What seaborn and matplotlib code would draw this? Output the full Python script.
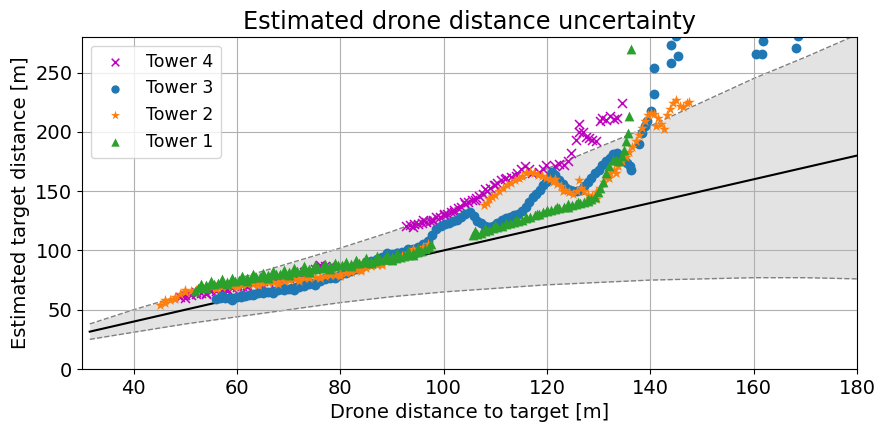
import numpy as np
import pandas as pd
import matplotlib
matplotlib.use("Agg")
import matplotlib.pyplot as plt
import seaborn as sns

# ---- data ----
band_x = [31.5, 40, 50, 60, 70, 80, 90, 100, 110, 120, 130, 140, 150, 160, 170, 180]
band_upper = [38, 50, 63, 76, 89, 102, 116, 132, 150, 169, 187, 205, 225, 245, 263, 282]
band_lower = [25, 31, 38, 44, 50, 56, 61, 65, 68, 71, 73, 75, 76, 77, 77, 76]
ideal_x = [31.5, 180]
ideal_y = [31.5, 180]

t4_x = [49, 50, 51, 52, 53, 54, 55, 56, 57, 58, 59, 60, 61, 62, 63, 64, 65, 66, 67, 68,
        69, 70, 71, 72, 73, 74, 75, 76, 77, 77.8,
        92.8, 93.5, 94.2, 95, 95.9, 96.6, 97.3, 98, 98.6, 99.3, 100, 100.7, 101.4, 102,
        102.7, 103.4, 104.1, 104.8, 105.5, 106.2, 106.9, 107.6, 108.3, 109, 109.7, 110.4,
        111.1, 111.8, 113, 114.2, 115, 115.8, 116.5, 117, 118.5, 119.2, 119.9, 120.8, 121.6,
        122.4, 123.2, 124, 124.7, 125.6, 126.2, 126.2, 127, 127.6, 128.2, 128.7, 129.5,
        130.2, 130.7, 131.5, 132.2, 132.9, 133.6, 134.5]
t4_y = [61, 62, 62.5, 63.5, 64, 64.5, 65.5, 66, 67, 67.5, 68.5, 69, 70, 71, 72, 73, 74, 74.5,
        75.5, 76.5, 77, 78, 79, 80, 81.5, 83, 84.5, 86, 86.5, 86,
        121, 121.5, 122, 122, 123, 124, 125, 126, 128, 128.5, 129.5, 131, 132.5, 134,
        136, 137, 139, 141, 142.5, 144, 146, 148, 150, 153, 155, 157,
        159, 160.5, 162, 165, 169, 171, 169, 165, 166, 169, 172, 168, 171,
        173, 172, 175, 182, 193, 200, 207, 200, 196, 195, 193, 192,
        209, 212, 210, 213, 211, 212, 224]
t4_x_extra = [50, 52, 54, 56, 58, 60, 62, 64, 66, 68, 70, 72, 74, 76,
              94, 96, 98, 100, 102, 104, 106, 108, 110, 112, 114]
t4_y_extra = [60, 65, 63, 67.5, 66, 70.5, 69.5, 74.5, 73, 78, 76.5, 81.5, 81.5, 87.5,
              120, 125.5, 124.5, 131, 132.5, 140.5, 142.5, 151.5, 155.5, 161, 162.5]

t3_x = [56, 56.8, 57.6, 58.4, 59.2, 60, 60.8, 61.6, 62.4, 63.2, 64, 65, 66, 67, 68, 69, 70,
        71, 72, 73, 74, 75, 76, 77, 78, 79, 80, 81, 82, 83, 84, 85, 86, 87, 88, 89, 90, 91,
        92, 93, 94, 95, 96, 97, 97.8, 98.6, 99.4, 100.2, 101, 101.8, 102.6, 103.4, 104.2,
        105, 105.8, 106.5, 107.2, 108, 108.8, 109.6, 110.4, 111.2, 112, 112.8, 113.6, 114.4,
        115.2, 116, 116.6, 117.2, 117.9, 118.6, 119.3, 119.9, 120.5, 121, 121.6, 122.3, 123,
        123.7, 124.4, 125.1, 125.8, 126.5, 127.2, 127.9, 128.6, 129.3, 130, 130.7, 131.4,
        132.1, 132.8, 133.5, 134.2, 134.9, 135.5, 136, 136.3, 137.8, 138.4, 139, 139.4,
        140.2, 140.7, 140.7, 144, 145.4, 144, 145, 160.4, 161.6, 161.8, 168.2, 168.5]
t3_y = [59, 59.5, 59.5, 60, 60, 60.5, 61, 61.5, 62.5, 63.5, 64, 64.5, 65, 66, 66.5, 67, 67.5,
        68, 69, 70, 71.5, 72.5, 74, 75.5, 77, 78, 79, 81, 83, 85.5, 87, 89, 91, 92.5, 94.5,
        96, 97, 98, 99, 100, 101, 102.5, 105, 108, 113, 118, 121, 122, 123, 124.5, 126, 128.5,
        131, 132, 129, 125, 123, 121, 120, 121, 123, 125.5, 127.5, 128.5, 129.5, 130.5,
        133, 137, 141, 145, 148, 151, 155, 158, 162, 166, 164, 159, 156,
        153, 151, 150, 150, 151, 154, 158, 161, 165, 168, 172, 175,
        178, 181, 182, 180, 177, 174, 171, 168, 190, 199, 205, 209,
        218, 232, 254, 258, 264, 273, 281, 265.5, 265.5, 276.5, 270.5, 281]
t3_x_extra = [57, 59, 61, 63, 65, 67, 69, 71, 73, 75, 77, 79, 81, 83, 85, 87, 89, 91, 93, 95]
t3_y_extra = [61.5, 58.5, 62.5, 62, 66, 64.5, 68.5, 67, 71.5, 71, 77, 76.5, 82, 84, 90.5,
              91.5, 97.5, 97.5, 101, 101.5]

t2_x = [45, 46, 47, 48, 49, 50, 51, 52, 53, 54, 55, 56, 57, 58, 59, 60, 61, 62, 63, 64, 65,
        66, 67, 68, 69, 70, 71, 72, 73, 74, 75, 76, 77, 78, 79, 80, 81, 82, 83, 84, 85, 86,
        87, 88, 89, 90, 91, 92, 93, 94, 95, 96, 97,
        107.8, 108.3, 108.8, 109.4, 110, 110.8, 111.5, 112.2, 113, 113.8, 114.5, 115.2, 116,
        116.8, 117.5, 118.3, 119, 119.8, 120.5, 121.2, 122, 122.8, 123.5, 124.2, 125, 125.8,
        126.5, 127.2, 128, 128.7, 129.4, 130.2, 131, 131.6, 132.2, 133, 133.8, 134.5, 135.2,
        135.9, 136.5, 137.2, 137.8, 138.4, 139, 139.6, 140.2, 140.8, 141.4, 141.1, 142,
        142.7, 143.3, 143.8, 144.4, 145, 145.7, 146.3, 147, 147.5,
        126.2, 129.5, 133.4, 132, 121.5, 123]
t2_y = [54, 56, 58, 61, 63, 65, 66, 67, 68, 68.5, 69, 69, 69.5, 70, 70, 70.5, 71, 71.5, 72,
        72, 72.5, 73, 73, 73.5, 74, 75, 75.5, 76, 76.5, 77, 77.5, 78, 78.5, 79, 79.5, 80, 81,
        82, 83.5, 84.5, 85.5, 87, 88, 89.5, 91, 92.5, 94, 95.5, 97.5, 99.5, 101.5, 103, 105,
        138, 140, 143, 145, 147, 150, 153, 155, 157, 159, 161, 163, 165,
        166, 165, 164, 162.5, 161, 160, 158, 156, 154, 151, 149, 148, 150,
        153, 150, 147, 146, 149, 153, 158, 162, 165, 168, 171, 175, 179,
        183, 187, 192, 197, 203, 209, 214, 216, 215, 212, 205, 207,
        202, 214, 219, 224, 227, 222, 221, 224, 225,
        159, 143, 165, 161, 160, 150]
t2_x_extra = [46, 48, 50, 52, 54, 56, 58, 60, 62, 64, 66, 68, 70, 72, 74, 76, 78, 80, 82, 84,
              86, 88, 90, 92, 94, 96]
t2_y_extra = [58, 59, 67, 65.5, 70, 67.5, 71.5, 69, 73, 70.5, 74.5, 72, 76.5, 74.5, 78.5,
              76.5, 80.5, 78.5, 83.5, 82.5, 88.5, 88, 93.5, 93.5, 101, 102]

t1_x = [51.8, 52.5, 53.2, 54, 54.8, 55.6, 56.4, 57.2, 58, 58.8, 59.6, 60.4, 61.2, 62, 62.8,
        63.6, 64.4, 65.2, 66, 66.8, 67.6, 68.4, 69.2, 70, 70.8, 71.6, 72.4, 73.2, 74, 74.8,
        75.6, 76.4, 77.2, 78, 78.8, 79.6, 80.4, 81.2, 82, 82.8, 83.6, 84.4, 85.2, 86, 86.8,
        87.6, 88.4, 89.2, 90, 90.8, 91.6, 92.4, 93.2, 94, 94.8, 95.6, 96.4, 97.2, 97.6,
        105.6, 106.4, 107.2, 108, 108.8, 109.6, 110.4, 111.2, 112, 112.8, 113.6, 114.4,
        115.2, 116, 116.8, 117.6, 118.4, 119.2, 120, 120.8, 121.6, 122.4, 123.2, 124,
        124.8, 125.6, 126.4, 127.2, 128, 128.6, 129.2, 129.8, 130.3, 130.8, 131.4, 132,
        132.7, 133.4, 134, 134.5, 134.9, 135.3, 135.6, 135.9, 136.3]
t1_y = [66, 68, 69.5, 70.5, 71.5, 72, 72.5, 73, 73.5, 74, 74.5, 75, 76, 76.5, 77,
        77.5, 78, 78.5, 79, 79.5, 80, 80.5, 81, 81.5, 82, 82.5, 83, 83.5, 84, 84.5,
        85, 85.5, 86, 86.5, 87, 87.5, 87.5, 88, 88.5, 89, 89.5, 90, 90.5, 91, 91.5,
        92, 92.5, 93, 93.5, 94, 94.5, 95.5, 96.5, 97.5, 98.5, 99.5, 101, 103, 105,
        113, 114, 115, 116.5, 117.5, 119, 120, 121, 122, 123, 124, 125,
        126, 127, 128, 129.5, 131, 132, 133, 134, 135, 136, 136.5, 137,
        138, 139, 140, 141, 142, 143, 145, 149, 153, 158, 165, 171,
        176, 176, 175, 180, 185, 192, 199, 213, 270]
t1_x_extra = [53, 55, 57, 59, 61, 63, 65, 67, 69, 71, 73, 75, 77, 79, 81, 83, 85, 87, 89, 91,
              93, 95, 54, 58, 62, 66, 70, 74, 78, 82, 86, 90, 94,
              106, 108, 110, 112, 114, 116, 118, 120, 122, 124, 126, 128]
t1_y_extra = [72, 74.5, 76, 77, 78.5, 80, 81, 82.5, 83.5, 85, 86.5, 87.5, 88.5, 89.5, 90.5,
              92, 93.5, 95, 96, 97.5, 99.5, 102, 68, 71.5, 74.5, 77, 79.5, 82, 84.5, 87, 89,
              92, 96, 116, 119, 121.5, 123.5, 126, 128.5, 131, 134, 136.5, 139, 141, 143.5]

# ---- figure ----
fig = plt.figure(figsize=(8.77, 4.23), dpi=100)
ax = fig.add_axes([82 / 877, 1 - 369 / 423, (857 - 82) / 877, (369 - 37) / 423])

ax.fill_between(band_x, band_lower, band_upper, color="#e3e3e3", zorder=1, linewidth=0)
sns.lineplot(x=band_x, y=band_upper, ax=ax, color="gray", linestyle="--", linewidth=1, zorder=1.2)
sns.lineplot(x=band_x, y=band_lower, ax=ax, color="gray", linestyle="--", linewidth=1, zorder=1.2)
sns.lineplot(x=ideal_x, y=ideal_y, ax=ax, color="black", linewidth=1.5, zorder=1.6)

ms = 50
series = [
    ("Tower 4", t4_x + t4_x_extra, t4_y + t4_y_extra, "x", "m", ms - 8, 1.1),
    ("Tower 3", t3_x + t3_x_extra, t3_y + t3_y_extra, "o", "#1f77b4", ms, 0),
    ("Tower 2", t2_x + t2_x_extra, t2_y + t2_y_extra, "*", "#ff7f0e", ms + 15, 0),
    ("Tower 1", t1_x + t1_x_extra, t1_y + t1_y_extra, "^", "#2ca02c", ms, 0),
]
for name, xs, ys, mk, col, size, lw in series:
    df = pd.DataFrame({"x": xs, "y": ys})
    sns.scatterplot(data=df, x="x", y="y", ax=ax, marker=mk, color=col, s=size,
                    linewidth=lw, label=name, zorder=2)

ax.set_xlim(30, 180)
ax.set_ylim(0, 280)
ax.set_xticks([40, 60, 80, 100, 120, 140, 160, 180])
ax.set_yticks([0, 50, 100, 150, 200, 250])
ax.grid(True, color="#b0b0b0", linewidth=0.8)
ax.tick_params(labelsize=14)
ax.set_xlabel("Drone distance to target [m]", fontsize=14)
ax.set_ylabel("Estimated target distance [m]", fontsize=14)
ax.set_title("Estimated drone distance uncertainty", fontsize=17.3)
leg = ax.legend(loc="upper left", fontsize=12.5, markerscale=0.85)

fig.savefig("out.png", dpi=100)
